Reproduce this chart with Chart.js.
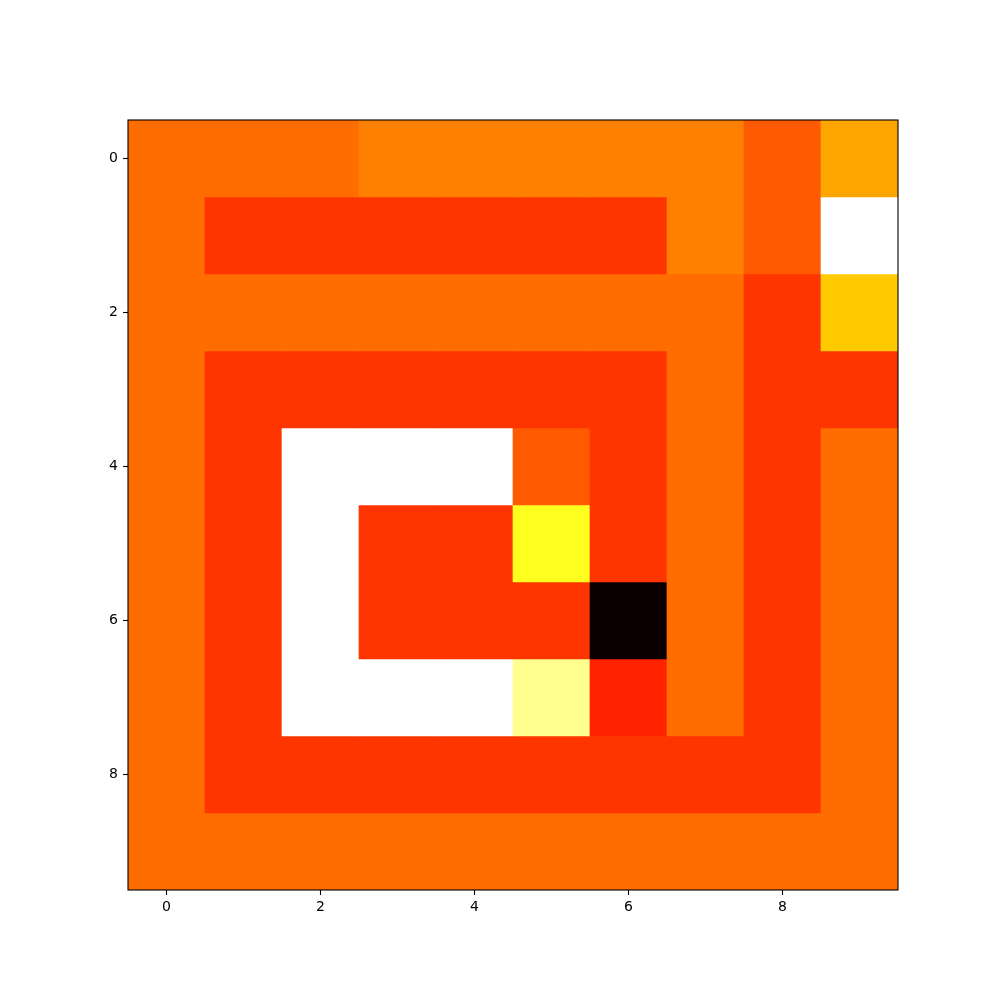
<!DOCTYPE html>
<html>
<head>
<meta charset="UTF-8" />
<script src="https://cdn.jsdelivr.net/npm/chart.js@4"></script>
<style>
  html, body { margin: 0; padding: 0; background: #fff; }
  #wrap { width: 1000px; height: 1000px; }
</style>
</head>
<body>
<div id="wrap"><canvas id="chart" width="1000" height="1000"></canvas></div>
<script>
// grid values (row 0 at top), shown with the "hot" colormap, vmin 0, vmax 36
const rows = [0, 1, 2, 3, 4, 5, 6, 7, 8, 9];
const cols = [0, 1, 2, 3, 4, 5, 6, 7, 8, 9];
const grid = [
  [19, 19, 19, 20, 20, 20, 20, 20, 18, 22],
  [19, 16, 16, 16, 16, 16, 16, 20, 18, 36],
  [19, 19, 19, 19, 19, 19, 19, 19, 16, 24],
  [19, 16, 16, 16, 16, 16, 16, 19, 16, 16],
  [19, 16, 36, 36, 36, 18, 16, 19, 16, 19],
  [19, 16, 36, 16, 16, 28, 16, 19, 16, 19],
  [19, 16, 36, 16, 16, 16, 0.5, 19, 16, 19],
  [19, 16, 36, 36, 36, 32, 15, 19, 16, 19],
  [19, 16, 16, 16, 16, 16, 16, 16, 16, 19],
  [19, 19, 19, 19, 19, 19, 19, 19, 19, 19],
];
const xTicks = [0, 2, 4, 6, 8];
const yTicks = [0, 2, 4, 6, 8];
const vmin = 0, vmax = 36;

// matplotlib "hot"
function hot(v) {
  const t = Math.min(1, Math.max(0, (v - vmin) / (vmax - vmin)));
  const clip = (x) => Math.round(255 * Math.min(1, Math.max(0, x)));
  const r = clip(t / 0.365079);
  const g = clip((t - 0.365079) / (0.746032 - 0.365079));
  const b = clip((t - 0.746032) / (1 - 0.746032));
  return `rgb(${r},${g},${b})`;
}

const datasets = rows.map((r) => ({
  label: "row " + r,
  data: cols.map((c) => ({ x: c, y: [r - 0.5, r + 0.5] })),
  backgroundColor: cols.map((c) => hot(grid[r][c])),
  borderWidth: 0,
  barPercentage: 1,
  categoryPercentage: 1,
  grouped: false,
}));

const frame = {
  id: "frame",
  afterDraw(chart) {
    const { ctx, chartArea: a } = chart;
    ctx.save();
    ctx.strokeStyle = "#000";
    ctx.lineWidth = 1.1;
    ctx.strokeRect(a.left, a.top, a.right - a.left, a.bottom - a.top);
    ctx.restore();
  },
};

const font = { family: "DejaVu Sans", size: 14 };

new Chart(document.getElementById("chart"), {
  type: "bar",
  data: { datasets },
  plugins: [frame],
  options: {
    responsive: false,
    animation: false,
    layout: { padding: { top: 120, right: 102, bottom: 80, left: 0 } },
    plugins: { legend: { display: false }, tooltip: { enabled: false } },
    scales: {
      x: {
        type: "linear",
        min: -0.5,
        max: 9.5,
        offset: false,
        afterBuildTicks: (s) => { s.ticks = xTicks.map((v) => ({ value: v })); },
        afterFit: (s) => { s.height = 30; },
        grid: { offset: false, drawOnChartArea: false, drawTicks: true, tickLength: 5, color: "#000", tickWidth: 1.1 },
        border: { display: false },
        ticks: { color: "#000", font, padding: 4, maxRotation: 0 },
      },
      y: {
        type: "linear",
        reverse: true,
        min: -0.5,
        max: 9.5,
        afterBuildTicks: (s) => { s.ticks = yTicks.map((v) => ({ value: v })); },
        afterFit: (s) => { s.width = 128; },
        grid: { drawOnChartArea: false, drawTicks: true, tickLength: 5, color: "#000", tickWidth: 1.1 },
        border: { display: false },
        ticks: { color: "#000", font, padding: 5 },
      },
    },
  },
});
</script>
</body>
</html>
